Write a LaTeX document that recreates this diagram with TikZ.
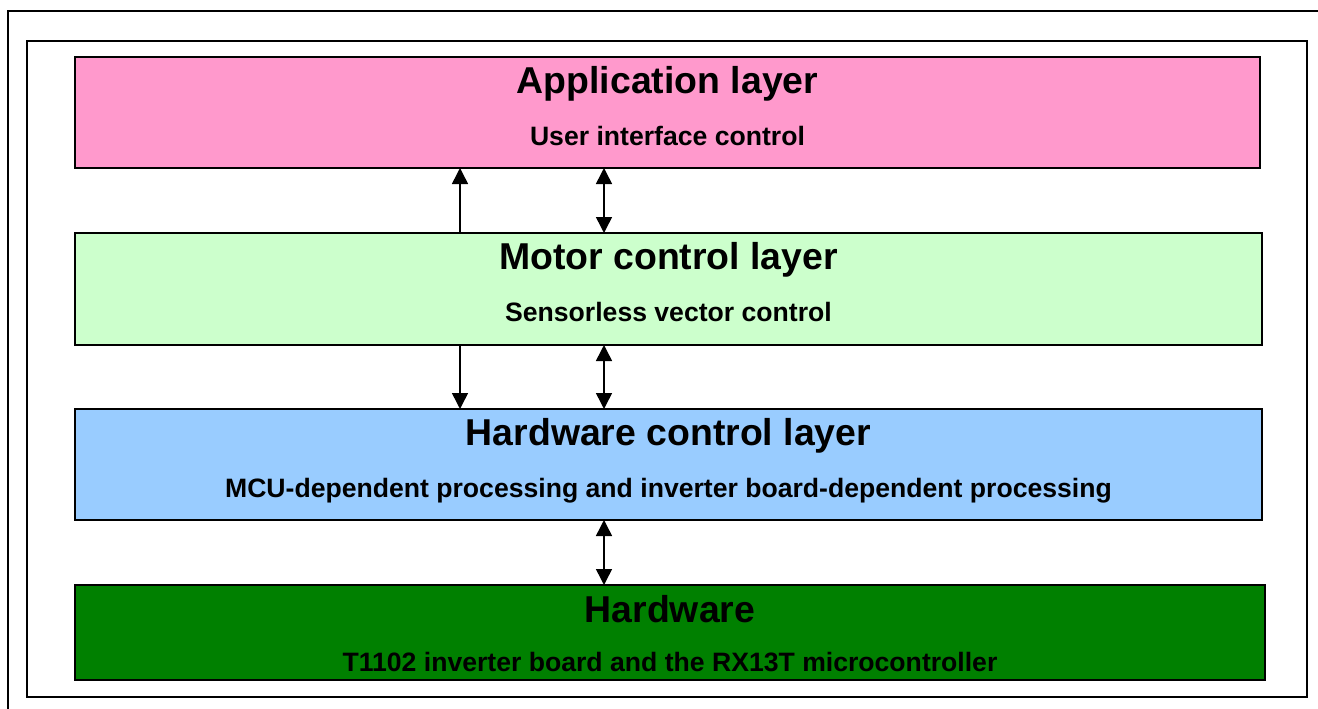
\documentclass[tikz,border=0pt]{standalone}
\usepackage{fontspec}
\setmainfont{Liberation Sans}
\usetikzlibrary{arrows.meta}
\definecolor{apppink}{HTML}{FF99CC}
\definecolor{motormint}{HTML}{CCFFCC}
\definecolor{hwblue}{HTML}{99CCFF}
\definecolor{hwgreen}{HTML}{008000}
\begin{document}
\begin{tikzpicture}[x=1pt,y=-1pt,line width=1.5pt,
  layer/.style={draw,inner sep=0pt,outer sep=0pt,anchor=north west},
  title/.style={anchor=base,inner sep=0pt,font=\bfseries\fontsize{37.4}{40}\selectfont},
  sub/.style={anchor=base,inner sep=0pt,font=\bfseries\fontsize{26.6}{29}\selectfont},
  tip/.style={-{Triangle[width=16pt,length=16pt]}},
  dbl/.style={{Triangle[width=16pt,length=16pt]}-{Triangle[width=16pt,length=16pt]}}]
  \useasboundingbox (0,0) rectangle (1318,709);
  % frames
  \draw (8,709) -- (8,11) -- (1318,11);
  \draw (27,41) rectangle (1307,697);
  % layers
  \node[layer,fill=apppink,minimum width=1185pt,minimum height=111pt] (app) at (75,57) {};
  \node[layer,fill=motormint,minimum width=1187pt,minimum height=112pt] (motor) at (75,233) {};
  \node[layer,fill=hwblue,minimum width=1187pt,minimum height=111pt] (hwctl) at (75,409) {};
  \node[layer,fill=hwgreen,minimum width=1190pt,minimum height=95pt] (hw) at (75,585) {};
  \node[title] (apptitle) at ([yshift=-36pt]app.north) {Application layer};
  \node[sub] (appsub) at ([yshift=-88pt]app.north) {User interface control};
  \node[title] (motortitle) at ([yshift=-36pt]motor.north) {Motor control layer};
  \node[sub] (motorsub) at ([yshift=-88pt]motor.north) {Sensorless vector control};
  \node[title] (hwctltitle) at ([yshift=-36pt]hwctl.north) {Hardware control layer};
  \node[sub] (hwctlsub) at ([yshift=-88pt]hwctl.north) {MCU-dependent processing and inverter board-dependent processing};
  \node[title] (hwtitle) at ([yshift=-37pt]hw.north) {Hardware};
  \node[sub] (hwsub) at ([yshift=-86pt]hw.north) {T1102 inverter board and the RX13T microcontroller};
  % links
  \coordinate (l) at (460,0);
  \coordinate (r) at (604,0);
  \draw[tip] (motor.north -| l) -- (app.south -| l);
  \draw[dbl] (motor.north -| r) -- (app.south -| r);
  \draw[tip] (motor.south -| l) -- (hwctl.north -| l);
  \draw[dbl] (motor.south -| r) -- (hwctl.north -| r);
  \draw[dbl] (hwctl.south -| r) -- (hw.north -| r);
\end{tikzpicture}
\end{document}
